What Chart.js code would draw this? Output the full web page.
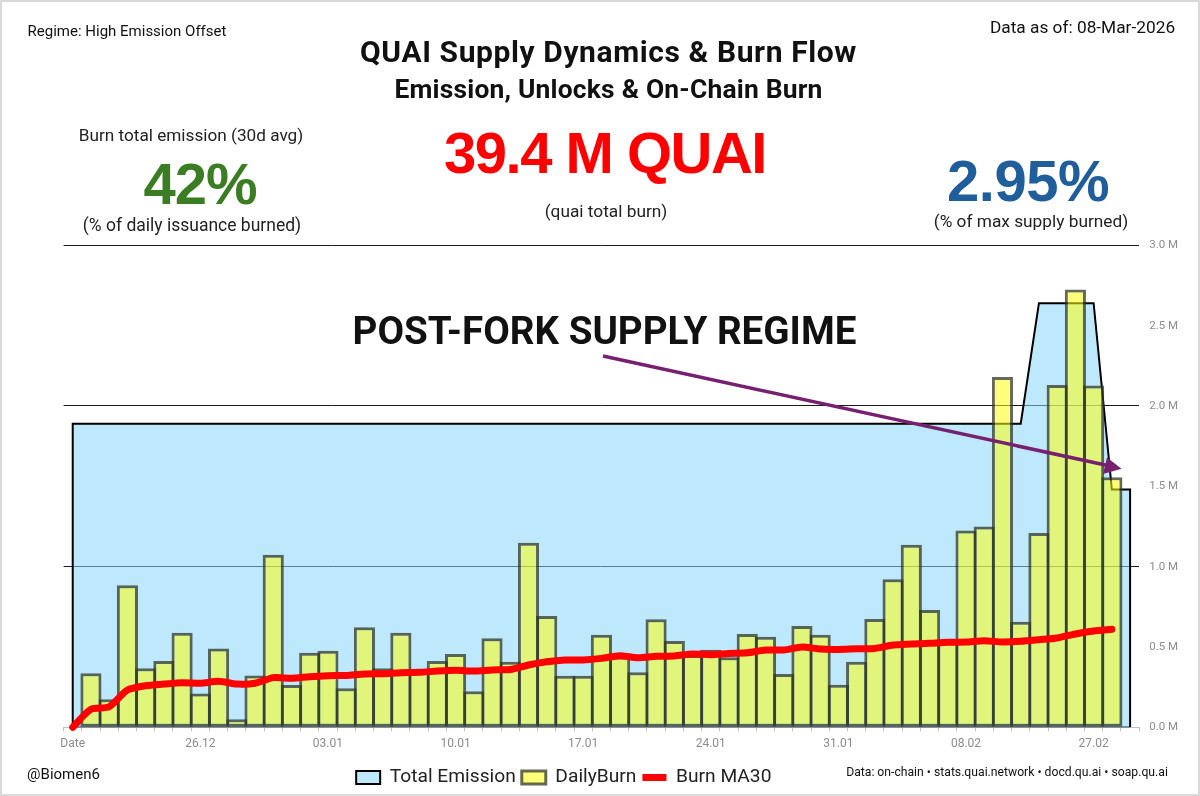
<!DOCTYPE html>
<html>
<head>
<meta charset="utf-8">
<title>QUAI Supply Dynamics & Burn Flow</title>
<script src="https://cdn.jsdelivr.net/npm/chart.js@4/dist/chart.umd.min.js"></script>
<style>
  html, body { margin: 0; padding: 0; background: #fff; }
  #page { position: relative; width: 1200px; height: 796px; overflow: hidden; font-family: Roboto, sans-serif; color: #111; }
  #frame { position: absolute; inset: 0; border: 2px solid #d9d9d9; box-sizing: border-box; pointer-events: none; }
  canvas { position: absolute; left: 0; top: 0; }
  #arrow { position: absolute; left: 0; top: 0; }
  .t { position: absolute; white-space: nowrap; transform: translate(-50%, -50%); line-height: 1; }
  .big { font-family: "Liberation Sans", Arial, sans-serif; font-weight: 700; }
  .sub { font-size: 17.3px; color: #222; }
</style>
</head>
<body>
<div id="page">
  <canvas id="chart" width="1200" height="796"></canvas>
  <svg id="arrow" width="1200" height="796">
    <line x1="603" y1="356" x2="1110" y2="466" stroke="#76206f" stroke-width="3.5"/>
    <polygon points="1121.5,468.7 1107,457.5 1103,474" fill="#76206f"/>
  </svg>

  <div class="t" style="left:127px;top:31px;font-size:15px">Regime: High Emission Offset</div>
  <div class="t" style="left:1082.5px;top:28px;font-size:17.3px">Data as of: 08-Mar-2026</div>
  <div class="t" style="left:608.5px;top:52px;font-size:30px;font-weight:700;letter-spacing:.6px">QUAI Supply Dynamics &amp; Burn Flow</div>
  <div class="t" style="left:608.5px;top:89px;font-size:26.4px;font-weight:700;letter-spacing:.2px">Emission, Unlocks &amp; On-Chain Burn</div>

  <div class="t sub" style="left:191px;top:136px;font-size:17.2px">Burn total emission (30d avg)</div>
  <div class="t big" style="left:200px;top:184px;font-size:58px;color:#3b7d23;letter-spacing:-1px">42%</div>
  <div class="t sub" style="left:192px;top:226px;font-size:17.5px">(% of daily issuance burned)</div>

  <div class="t big" style="left:605px;top:153px;font-size:58px;color:#ff0000;letter-spacing:-1.5px">39.4 M QUAI</div>
  <div class="t sub" style="left:606px;top:212px">(quai total burn)</div>

  <div class="t big" style="left:1028px;top:181px;font-size:58px;color:#205e9b;letter-spacing:-.5px">2.95%</div>
  <div class="t sub" style="left:1031px;top:222px">(% of max supply burned)</div>

  <div class="t" style="left:604.5px;top:331px;font-size:38.6px;font-weight:700">POST-FORK SUPPLY REGIME</div>

  <div class="t" style="left:63.5px;top:774px;font-size:15px">@Biomen6</div>
  <div class="t" style="left:1007px;top:772px;font-size:12.2px">Data: on-chain • stats.quai.network • docd.qu.ai • soap.qu.ai</div>
  <div id="frame"></div>
</div>

<script>
// Values in millions of QUAI. One entry per day slot.
const tickLabels = ['Date', '26.12', '03.01', '10.01', '17.01', '24.01', '31.01', '08.02', '27.02'];

const totalEmission = [
  1.89, 1.89, 1.89, 1.89, 1.89, 1.89, 1.89, 1.89, 1.89, 1.89,
  1.89, 1.89, 1.89, 1.89, 1.89, 1.89, 1.89, 1.89, 1.89, 1.89,
  1.89, 1.89, 1.89, 1.89, 1.89, 1.89, 1.89, 1.89, 1.89, 1.89,
  1.89, 1.89, 1.89, 1.89, 1.89, 1.89, 1.89, 1.89, 1.89, 1.89,
  1.89, 1.89, 1.89, 1.89, 1.89, 1.89, 1.89, 1.89, 1.89, 1.89,
  1.89, 1.89, 1.89, 2.64, 2.64, 2.64, 2.64, 1.48, 1.48
];

const dailyBurn = [
  null, 0.336, 0.174, 0.884, 0.367, 0.412, 0.589, 0.21, 0.49, 0.05,
  0.323, 1.074, 0.263, 0.464, 0.477, 0.243, 0.622, 0.367, 0.589, 0.35,
  0.412, 0.456, 0.224, 0.554, 0.408, 1.149, 0.693, 0.321, 0.321, 0.576,
  0.44, 0.342, 0.672, 0.537, 0.45, 0.483, 0.436, 0.58, 0.564, 0.332,
  0.63, 0.576, 0.265, 0.408, 0.674, 0.921, 1.136, 0.73, 0.53, 1.225,
  1.25, 2.18, 0.657, 1.21, 2.13, 2.725, 2.128, 1.556, null
];

const burnMA30 = [
  0, 0.112, 0.128, 0.232, 0.259, 0.269, 0.278, 0.274, 0.286, 0.269,
  0.274, 0.309, 0.305, 0.315, 0.321, 0.323, 0.332, 0.334, 0.34, 0.342,
  0.35, 0.355, 0.35, 0.357, 0.36, 0.388, 0.408, 0.419, 0.419, 0.429,
  0.446, 0.433, 0.442, 0.444, 0.456, 0.452, 0.46, 0.464, 0.481, 0.481,
  0.5, 0.487, 0.485, 0.489, 0.491, 0.512, 0.518, 0.523, 0.529, 0.531,
  0.539, 0.531, 0.535, 0.545, 0.556, 0.581, 0.599, 0.61, null
];

const slots = totalEmission.map((_, i) => i);
const last = slots.length - 1;

// area outline: drops to the baseline at both ends
const emissionOutline = [
  { x: 0, y: 0 },
  ...totalEmission.map((y, x) => ({ x, y })),
  { x: last, y: 0 }
];
const baseline = [{ x: 0, y: 0 }, { x: last, y: 0 }];

const legendShapes = { 'Total Emission': 'rect', DailyBurn: 'rect', 'Burn MA30': 'line' };
const PLOT = { left: 63.6, right: 1139.2, top: 245.3, bottom: 727.3 };
const PAD_BOTTOM = 0;

// the legend sits left of centre and a little lower than the default spot
const legendShift = {
  id: 'legendShift',
  afterLayout(chart) {
    chart.legend.left -= 68;
    chart.legend.right -= 68;
    chart.legend.top += 1;
    chart.legend.bottom += 1;
  }
};

new Chart(document.getElementById('chart'), {
  data: {
    labels: slots,
    datasets: [
      {
        type: 'line',
        label: 'Total Emission',
        data: emissionOutline,
        order: 3,
        fill: 'origin',
        backgroundColor: 'rgba(137,213,248,0.55)',
        borderColor: '#000',
        borderWidth: 2,
        pointRadius: 0,
        tension: 0
      },
      {
        type: 'line',
        label: 'baseline',
        data: baseline,
        order: 3,
        fill: false,
        borderColor: '#000',
        borderWidth: 2,
        pointRadius: 0
      },
      {
        type: 'bar',
        label: 'DailyBurn',
        data: dailyBurn,
        order: 2,
        backgroundColor: 'rgba(255,255,16,0.55)',
        borderColor: 'rgba(50,55,35,0.75)',
        borderWidth: 3,
        borderSkipped: false,
        barPercentage: 1.16,  // neighbours share one border, as in the original
        categoryPercentage: 1
      },
      {
        type: 'line',
        label: 'Burn MA30',
        data: burnMA30,
        order: 1,
        borderColor: '#ff0000',
        backgroundColor: '#ff0000',
        borderWidth: 7,
        borderCapStyle: 'round',
        borderJoinStyle: 'round',
        pointRadius: 0,
        tension: 0.25,
        clip: false
      }
    ]
  },
  options: {
    responsive: false,
    animation: false,
    layout: { padding: { left: PLOT.left, top: PLOT.top, right: 0, bottom: PAD_BOTTOM } },
    scales: {
      x: {
        type: 'category',
        offset: true,
        border: { color: '#bfbfbf', width: 1 },
        grid: { offset: true, drawOnChartArea: false, tickColor: '#bfbfbf', tickLength: 4 },
        ticks: {
          autoSkip: false,
          maxRotation: 0,
          padding: 5,
          color: '#8c8c8c',
          font: { family: 'Roboto', size: 12 },
          callback: (v, i) => (i % 7 === 0 ? tickLabels[i / 7] : '')
        },
        afterFit(s) {
          s.height = 796 - PLOT.bottom - s.chart.legend.height - PAD_BOTTOM;
        }
      },
      y: {
        position: 'right',
        min: 0,
        max: 3,
        border: { display: false },
        grid: {
          drawTicks: false,
          lineWidth: 1,
          color: (c) => (c.tick.value > 0 && c.tick.value % 1 === 0 ? '#1a1a1a' : 'transparent')
        },
        ticks: {
          stepSize: 0.5,
          padding: 10,
          color: '#8c8c8c',
          font: { family: 'Roboto', size: 11.5 },
          callback: (v) => v.toFixed(1) + ' M'
        },
        afterFit(s) {
          s.width = 1200 - PLOT.right;
        }
      }
    },
    plugins: {
      tooltip: { enabled: false },
      legend: {
        position: 'bottom',
        labels: {
          usePointStyle: true,
          pointStyleWidth: 24,
          boxHeight: 13,
          padding: 6,
          color: '#222',
          font: { family: 'Roboto', size: 19.2 },
          sort: (a, b) => a.datasetIndex - b.datasetIndex,
          filter: (item) => item.text !== 'baseline',
          generateLabels(chart) {
            const items = Chart.defaults.plugins.legend.labels.generateLabels(chart);
            items.forEach((it) => { it.pointStyle = legendShapes[it.text]; });
            return items;
          }
        }
      }
    }
  },
  plugins: [legendShift]
});
</script>
</body>
</html>
